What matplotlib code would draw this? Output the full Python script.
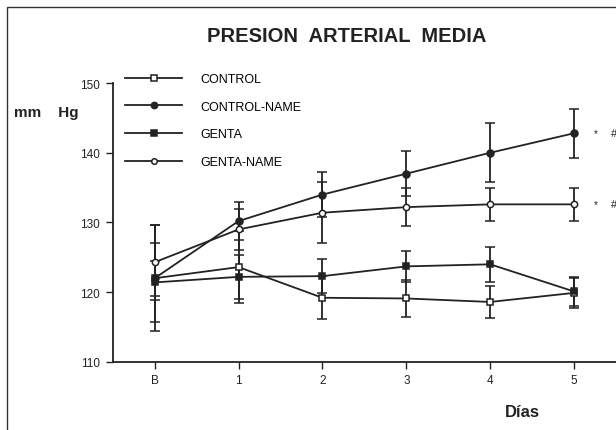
import matplotlib
matplotlib.use("Agg")
import matplotlib.pyplot as plt
from matplotlib.patches import Rectangle
from matplotlib.lines import Line2D

plt.rcParams['font.family'] = ['Liberation Sans', 'DejaVu Sans']

days = ["B", "1", "2", "3", "4", "5"]
control = [122.0, 123.6, 119.2, 119.1, 118.6, 119.9]
control_err = [7.6, 5.2, 3.1, 2.6, 2.3, 2.1]
control_name = [122.0, 130.2, 134.0, 137.0, 140.0, 142.8]
control_name_err = [2.5, 2.7, 3.2, 3.2, 4.2, 3.5]
genta = [121.4, 122.2, 122.3, 123.7, 124.0, 120.1]
genta_err = [5.7, 3.2, 2.4, 2.2, 2.5, 2.1]
genta_name = [124.3, 129.0, 131.4, 132.2, 132.6, 132.6]
genta_name_err = [5.4, 2.9, 4.4, 2.7, 2.4, 2.4]

series = [
    ("CONTROL", control, control_err, "s", "white", 4.8),
    ("CONTROL-NAME", control_name, control_name_err, "o", "#222222", 5),
    ("GENTA", genta, genta_err, "s", "#222222", 4.8),
    ("GENTA-NAME", genta_name, genta_name_err, "o", "white", 4.5),
]

INK = "#222222"
W, H = 616, 431
fig = plt.figure(figsize=(6.16, 4.31), dpi=100)
ax = fig.add_axes([0.183, 0.158, 0.817, 0.647])
x = list(range(len(days)))
handles = []
for name, y, e, m, fc, ms in series:
    ax.errorbar(x, y, yerr=e, color=INK, lw=1.3, marker=m, ms=ms,
                mfc=fc, mec=INK, mew=1.1, capsize=3.5, capthick=1.3,
                elinewidth=1.3)
    handles.append(Line2D([], [], color=INK, lw=1.3, marker=m, ms=ms - 0.5,
                          mfc=fc, mec=INK, mew=1.1, label=name))

ax.set_xlim(-0.5, 5.5)
ax.set_ylim(110, 150)
ax.set_xticks(x)
ax.set_xticklabels(days)
ax.set_yticks([110, 120, 130, 140, 150])
ax.tick_params(direction="out", length=5, width=1, labelsize=8.5, pad=4, colors=INK)
for s in ["top", "right"]:
    ax.spines[s].set_visible(False)
for s in ["left", "bottom"]:
    ax.spines[s].set_linewidth(1.3)
    ax.spines[s].set_color(INK)

fig.legend(handles=handles, loc="upper left", bbox_to_anchor=(125 / W, 1 - 74 / H),
           bbox_transform=fig.transFigure, frameon=False, borderpad=0,
           borderaxespad=0, fontsize=9, handlelength=4.56, handletextpad=1.44,
           labelspacing=1.26, numpoints=1)

for yv in [control_name[-1], genta_name[-1]]:
    ax.text(5.26, yv, "*", fontsize=7, ha="center", va="center", color=INK)
    ax.text(5.48, yv, "#", fontsize=8, ha="center", va="center", color=INK)

fig.text(347 / W, 1 - 41.5 / H, "PRESION  ARTERIAL  MEDIA", ha="center", va="baseline",
         fontsize=14.5, fontweight="bold", color=INK)
fig.text(14 / W, 1 - 117 / H, "mm    Hg", ha="left", va="baseline", fontsize=11,
         fontweight="bold", color=INK)
fig.text(505 / W, 1 - 417 / H, "Días", ha="left", va="baseline", fontsize=12,
         fontweight="bold", color=INK)

fig.patches.append(Rectangle((6.5 / W, -0.05), 1.1, 1.05 - 8 / H, transform=fig.transFigure,
                             fill=False, lw=1.0, ec="#333333"))

fig.savefig("out.png", dpi=100)
